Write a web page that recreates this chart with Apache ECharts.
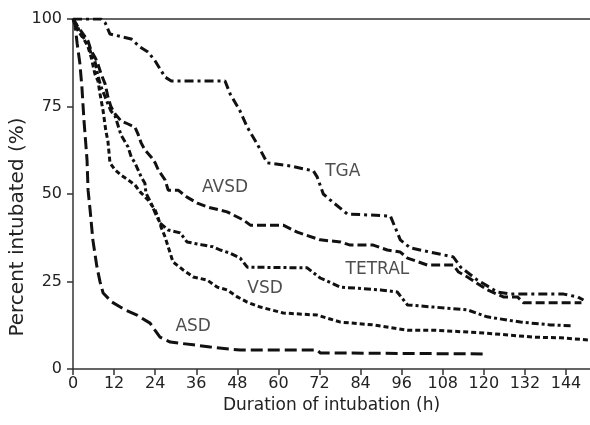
<!DOCTYPE html>
<html><head><meta charset="utf-8">
<script src="https://cdn.jsdelivr.net/npm/echarts@6/dist/echarts.min.js"></script>
<style>html,body{margin:0;padding:0;background:#fff}#c{width:590px;height:425px}</style>
</head><body><div id="c"></div>
<script>
var xTicks = [0,12,24,36,48,60,72,84,96,108,120,132,144];
var yTicks = [0,25,50,75,100];

var tgaX = [0,8.2,9.4,10.8,17,19.6,21.9,24,26.9,28.7,44.4,45.9,48.8,50.9,53.8,56.7,63.5,70.2,71.3,73.1,75.1,80.1,92.7,95.6,98.5,111.1,113.2,118.1,124,127.8,143.3,147.4,149.1];
var tgaY = [100,100,98.9,95.7,94.3,92,90.6,88,83.4,82.3,82.3,78.6,73.7,69.1,64.3,58.9,58,56.6,54.9,50,48.3,44.3,43.7,36.9,34.6,32,29.1,25.4,22,21.4,21.4,20.6,19.7];

var avsdX = [0,1.5,4.4,5.3,6.4,7.3,8.2,9.4,10.2,11.1,12.3,14,16.1,18.1,19,19.9,21,22.8,24,24.9,26.9,27.8,30.7,33.3,36.3,39.2,45,49.7,51.8,61.4,65.5,72.2,78.1,81,87.7,91.8,95.6,97.7,103.5,111.1,112.6,115.2,121,125.7,129.8,131.6,148.5];
var avsdY = [100,97.7,93.7,90.9,89.1,87.1,84.3,81.4,77.7,74.9,72.9,70.9,70,69.1,67.1,64.6,62.6,60.6,58.9,56.9,54,51.1,51.1,49.1,47.4,46.3,44.9,42.6,41.1,41.1,39.1,36.9,36.3,35.4,35.4,34,33.4,31.7,29.7,29.7,27.7,26.3,22.6,20.6,20.6,18.9,18.9];

var tetralX = [0,0.9,2.3,4.4,5.3,6.4,7.3,8.2,9.4,10.2,11.1,12.3,14,16.1,17,18.1,19,19.9,21,21.3,22.8,24,25.4,27.8,31.3,33.3,38,40.9,43,45.9,48.8,50.9,68.4,72.2,78.1,89.8,94.7,97.7,105.3,115.2,121,130.7,139.5,146.2];
var tetralY = [100,98.6,95.7,92.9,90,88,83.7,80.6,77.7,75.7,73.7,72.3,66.9,63.4,60.6,58.9,56.9,54.9,53.1,50.3,47.4,44.6,41.7,39.7,38.9,36.3,35.4,34.9,34,33.1,31.7,29.1,28.9,26,23.4,22.6,22,18.3,17.7,16.9,14.9,13.4,12.6,12.3];

var vsdX = [0,0.9,1.5,3.5,4.4,5.3,6.4,7.3,7.9,8.8,9.6,10.2,10.8,12.3,14,16.1,18.1,19.6,21.9,24,24.9,25.7,26.9,27.8,29.2,32.2,35.1,39.2,42.1,45,48,50.9,54.7,61.4,71.3,78.1,87.7,97.7,105.3,119.9,134.5,142.4,150.5];
var vsdY = [100,98.3,96.6,93.7,92,89.1,84.3,82.3,78.6,73.7,68,65.1,58.9,56.9,55.4,54,52.6,50.6,48.3,45.4,43.1,40.6,37.7,34.9,30.6,28.3,26.3,25.4,23.4,22.6,20.6,19.1,17.7,16,15.4,13.4,12.6,11.1,11.1,10.3,9.1,8.9,8.3];

var asdX = [0,0.6,1.2,2,2.6,3.2,4.1,4.4,5,5.8,7,7.9,8.8,11.4,15.2,18.7,22.5,25.4,28.4,35.1,40.1,48.8,71.3,72.2,121];
var asdY = [100,98.3,93.1,87.4,80.6,71.1,59.7,51.1,45.4,36.9,29.1,24.9,21.7,19.1,16.9,15.4,13.1,9.1,7.7,6.9,6.3,5.4,5.4,4.6,4.3];

var labelNames = ['TGA','AVSD','TETRAL','VSD','ASD'];
var labelX = [78.8,44.4,88.9,56.1,35.1];
var labelY = [56.3,51.7,28.3,22.9,12];

function zip(xs, ys){ return xs.map(function(x,i){ return [x, ys[i]]; }); }

var font = '"DejaVu Sans", "Liberation Sans", sans-serif';
function line(name, xs, ys, dash){
  return { name:name, type:'line', data:zip(xs,ys), showSymbol:false, symbol:'none',
    lineStyle:{ color:'#111', width:3, type:dash, cap:'butt' }, silent:true, z:3 };
}

var chart = echarts.init(document.getElementById('c'), null, {renderer:'canvas'});
chart.setOption({
  animation:false,
  backgroundColor:'#fff',
  grid:{ left:73, top:19, right:0, bottom:56, containLabel:false, outerBoundsMode:'none' },
  graphic:[{
    type:'text', x:18, y:227, rotation:Math.PI/2, silent:true,
    style:{ text:'Percent intubated (%)', fill:'#222', fontSize:20, fontFamily:font,
      textAlign:'center', textVerticalAlign:'middle' }
  }],
  xAxis:[{
    type:'value', min:0, max:151, interval:12,
    axisLine:{ show:true, lineStyle:{ color:'#333', width:1.5 } },
    axisTick:{ show:true, inside:false, length:6, lineStyle:{ color:'#333', width:1.5 },
      customValues: xTicks },
    axisLabel:{ color:'#222', fontSize:16, fontFamily:font, margin:7,
      customValues: xTicks, formatter:function(v){ return String(v); } },
    splitLine:{ show:false },
    name:'Duration of intubation (h)', nameLocation:'middle', nameGap:27,
    nameTextStyle:{ color:'#222', fontSize:17, fontFamily:font }
  },{
    type:'value', position:'top', min:0, max:151,
    axisLine:{ show:true, lineStyle:{ color:'#333', width:1.5 } },
    axisTick:{ show:false }, axisLabel:{ show:false }, splitLine:{ show:false }
  }],
  yAxis:{
    type:'value', min:0, max:100, interval:25,
    axisLine:{ show:true, lineStyle:{ color:'#333', width:1.5 } },
    axisTick:{ show:true, inside:false, length:6, lineStyle:{ color:'#333', width:1.5 } },
    axisLabel:{ color:'#222', fontSize:16, fontFamily:font, margin:11 },
    splitLine:{ show:false }
  },
  series:[
    line('TGA', tgaX, tgaY, [9,4,3,4]),
    line('AVSD', avsdX, avsdY, [9,4]),
    line('TETRAL', tetralX, tetralY, [7,3,3,3]),
    line('VSD', vsdX, vsdY, [5,3]),
    line('ASD', asdX, asdY, [12,5]),
    { type:'scatter', symbolSize:0, silent:true, z:5,
      data: labelNames.map(function(n,i){ return { value:[labelX[i], labelY[i]], name:n }; }),
      label:{ show:true, position:'inside', formatter:'{b}', color:'#222', fontSize:17, fontFamily:font } }
  ]
});
</script></body></html>
